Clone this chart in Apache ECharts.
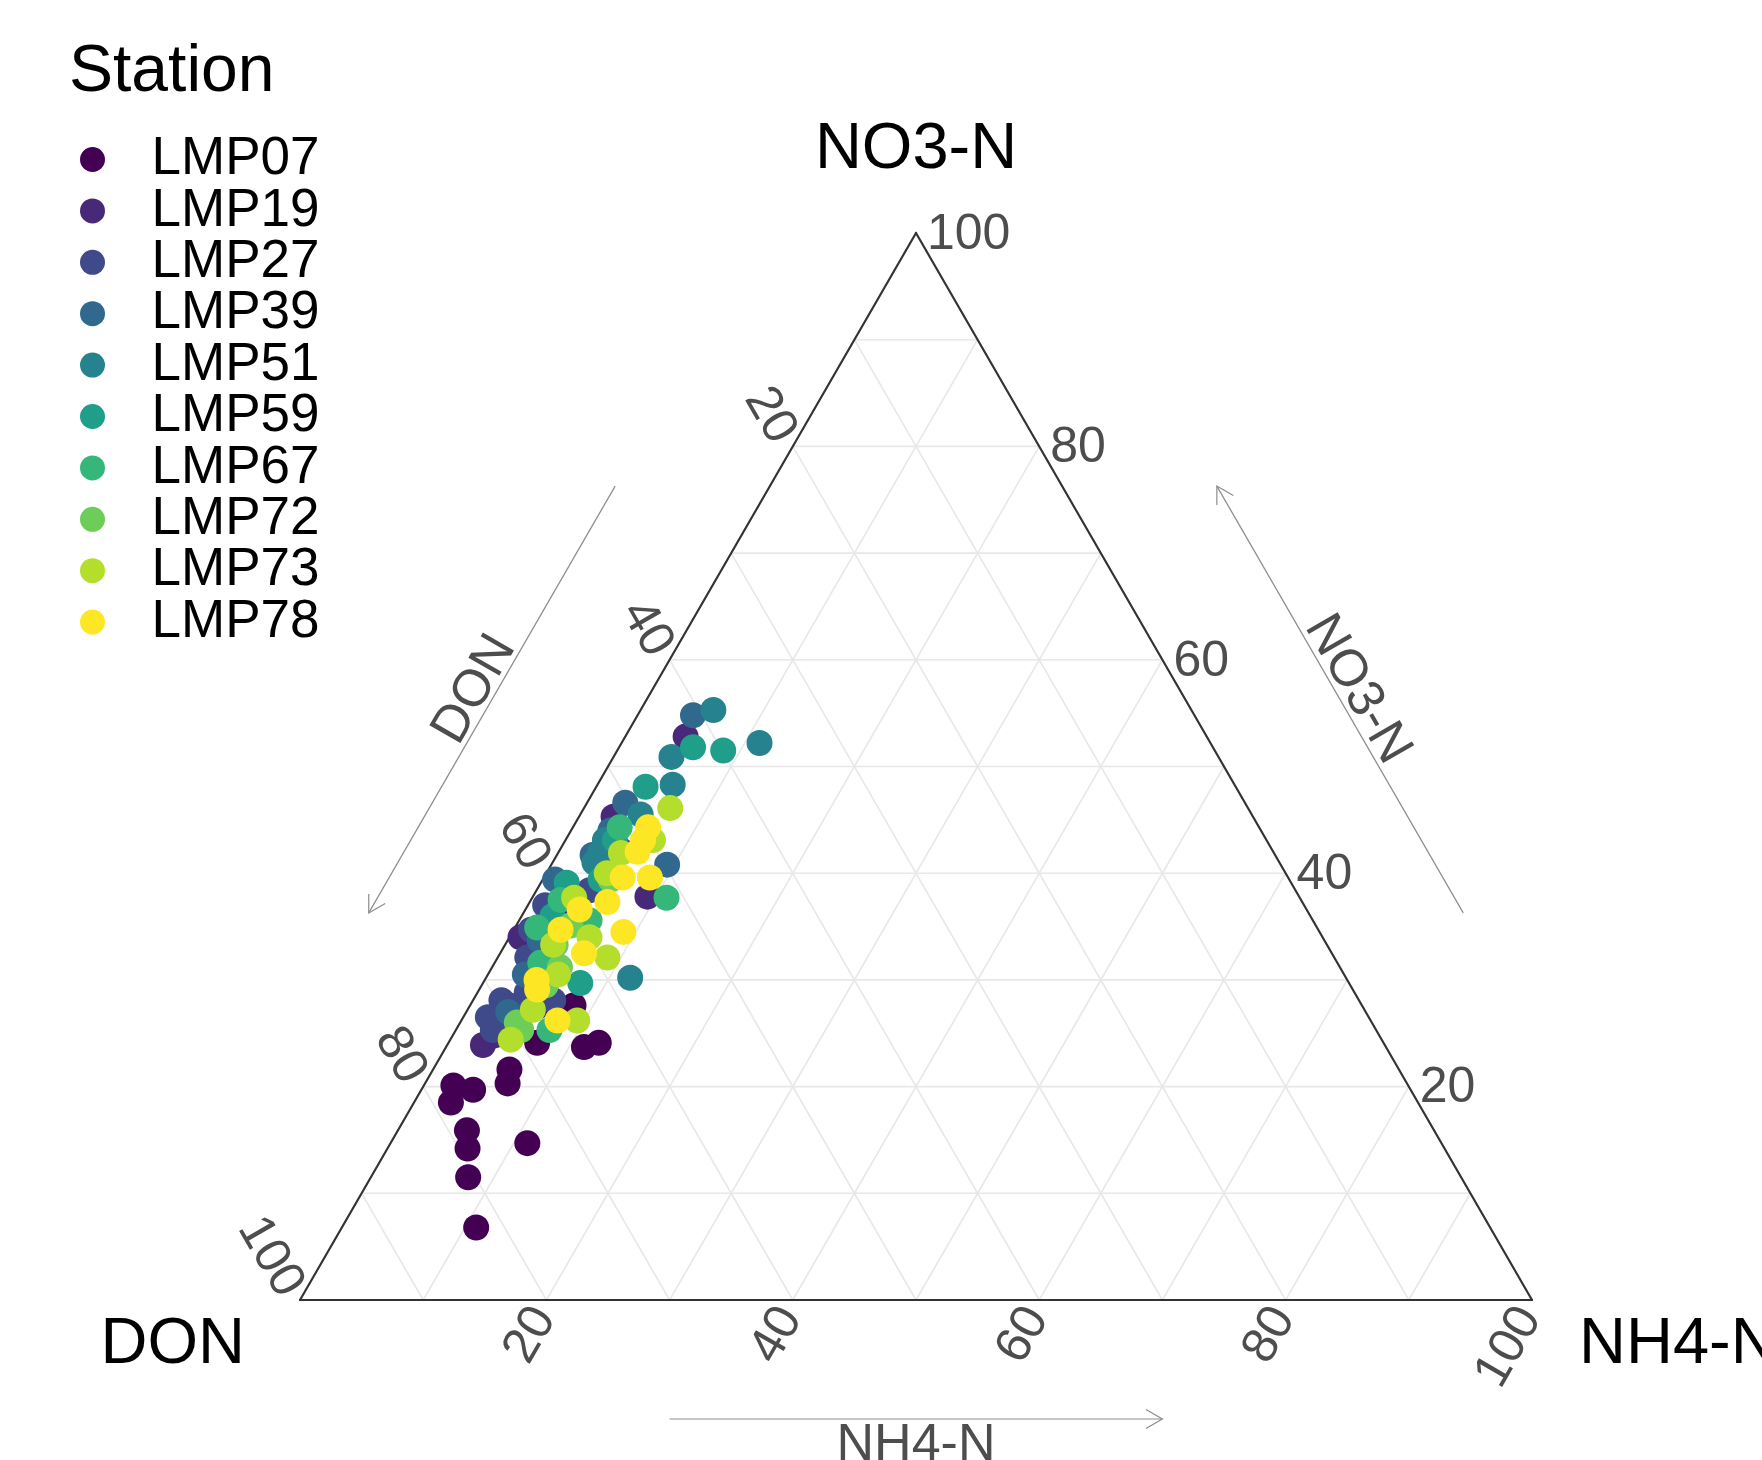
<!DOCTYPE html>
<html>
<head>
<meta charset="utf-8">
<script src="https://cdn.jsdelivr.net/npm/echarts@6/dist/echarts.min.js"></script>
<style>
html, body { margin: 0; padding: 0; background: #fff; }
#chart { width: 1762px; height: 1460px; }
</style>
</head>
<body>
<div id="chart"></div>
<script>
var stations = ['LMP07', 'LMP19', 'LMP27', 'LMP39', 'LMP51', 'LMP59', 'LMP67', 'LMP72', 'LMP73', 'LMP78'];
var stationColors = ['#440154', '#482878', '#3E4A89', '#31688E', '#26828E', '#1F9E89', '#35B779', '#6DCD59', '#B4DE2C', '#FDE725'];

// samples as [NH4-N %, NO3-N %], DON % is what is left
var lmp07 = [[10.9, 6.8], [7.9, 11.5], [6.5, 14.2], [5.6, 15.9], [11.1, 14.7], [3.0, 18.5], [2.4, 20.1], [4.2, 19.7], [6.2, 21.6], [6.7, 20.3], [7.2, 24.1], [11.2, 23.7], [12.2, 24.1], [8.4, 27.6]];
var lmp19 = [[2.9, 23.9], [0.9, 34.0], [2.8, 45.3], [9.3, 37.8], [4.9, 52.8], [3.4, 24.8], [4.0, 36.6], [4.0, 31.9], [5.5, 27.5]];
var lmp27 = [[3.0, 25.3], [2.3, 28.1], [4.0, 28.8], [3.2, 27.6], [2.4, 32.1], [4.3, 38.4], [6.5, 28.1], [1.4, 34.7], [1.4, 37.0], [2.0, 26.5], [4.9, 42.2]];
var lmp39 = [[4.5, 54.8], [3.1, 46.6], [9.4, 40.8], [2.9, 41.7], [1.0, 39.4], [3.4, 27.0], [3.2, 44.0], [3.6, 37.5], [2.6, 33.7], [3.0, 30.5]];
var lmp51 = [[5.9, 55.3], [4.7, 50.9], [11.2, 52.2], [6.1, 48.3], [3.4, 41.9], [11.7, 30.2], [3.2, 43.1], [3.4, 41.0], [4.9, 45.5]];
var lmp59 = [[6.0, 51.8], [8.6, 51.5], [4.0, 48.1], [2.1, 39.1], [7.9, 29.7], [4.0, 43.1], [4.7, 39.4], [2.5, 36.0]];
var lmp67 = [[10.9, 37.7], [3.8, 44.3], [1.8, 34.9], [3.7, 31.6], [7.6, 25.3], [2.4, 37.5], [5.7, 35.6]];
var lmp72 = [[5.5, 31.2], [4.6, 26.0], [4.4, 35.1], [4.1, 33.3], [5.5, 39.4], [5.2, 29.5], [5.3, 25.3]];
var lmp73 = [[7.0, 46.1], [7.1, 43.1], [4.9, 40.0], [5.1, 41.9], [3.4, 37.7], [8.9, 32.1], [3.9, 33.3], [6.5, 34.0], [5.7, 30.5], [9.4, 26.2], [4.9, 24.4], [5.3, 27.2]];
var lmp78 = [[6.1, 44.3], [6.3, 43.1], [6.4, 42.0], [8.6, 39.6], [6.4, 39.6], [6.3, 37.3], [4.4, 36.6], [9.0, 34.5], [3.8, 34.7], [6.8, 32.5], [4.2, 30.0], [7.8, 26.2], [4.7, 29.1]];
var stationData = [lmp07, lmp19, lmp27, lmp39, lmp51, lmp59, lmp67, lmp72, lmp73, lmp78];

var tickValues = [20, 40, 60, 80, 100];
var gridValues = [10, 20, 30, 40, 50, 60, 70, 80, 90];
var vertexNames = ['DON', 'NH4-N', 'NO3-N'];

var FONT = '"Liberation Sans", Arial, sans-serif';

// ternary (NH4, NO3) -> plane x/y, both 0..100
function tern(nh4, no3) {
	return [nh4 + no3 / 2, no3];
}

var vertices = [tern(0, 0), tern(100, 0), tern(0, 100)]; // DON, NH4-N, NO3-N

var gridSegs = [];
gridValues.forEach(function(k) {
	gridSegs.push(tern(0, k).concat(tern(100 - k, k)));       // NO3 const
	gridSegs.push(tern(k, 0).concat(tern(k, 100 - k)));       // NH4 const
	gridSegs.push(tern(100 - k, 0).concat(tern(0, 100 - k))); // DON const
});
var borderSegs = [
	vertices[0].concat(vertices[1]),
	vertices[1].concat(vertices[2]),
	vertices[2].concat(vertices[0])
];

function segRenderer(color, width) {
	return function(params, api) {
		var p1 = api.coord([api.value(0), api.value(1)]);
		var p2 = api.coord([api.value(2), api.value(3)]);
		return {
			type: 'line',
			shape: { x1: p1[0], y1: p1[1], x2: p2[0], y2: p2[1] },
			style: { stroke: color, lineWidth: width, lineCap: 'round' }
		};
	};
}

function textEl(x, y, text, size, color, align, rot) {
	return {
		type: 'text', x: x, y: y, rotation: rot || 0,
		style: { text: text, fill: color, fontSize: size, fontFamily: FONT, align: align, verticalAlign: 'middle' }
	};
}

// tick labels on the three sides
var tickSides = [
	{ pos: function(t) { return tern(100 - t, t); }, dx: 11, dy: 2, align: 'left', rot: 0 },              // NO3-N (right side)
	{ pos: function(t) { return tern(0, 100 - t); }, dx: -9, dy: -7, align: 'right', rot: -Math.PI / 3 },  // DON (left side)
	{ pos: function(t) { return tern(t, 0); }, dx: -2, dy: 11, align: 'right', rot: Math.PI / 3 }         // NH4-N (bottom)
];
var tickData = [];
tickSides.forEach(function(s, si) {
	tickValues.forEach(function(t) {
		tickData.push(s.pos(t).concat([si, t]));
	});
});

// arrows along the sides
var arrowSpec = [
	{ a: 0, b: 2, f0: 0.7, f1: 0.3, off: 134, title: 'DON', rot: Math.PI / 3, toff: 20 },
	{ a: 1, b: 2, f0: 0.3, f1: 0.7, off: 134, title: 'NO3-N', rot: -Math.PI / 3, toff: 20 },
	{ a: 0, b: 1, f0: 0.3, f1: 0.7, off: 119, title: 'NH4-N', rot: 0, toff: 27 }
];
var arrowData = arrowSpec.map(function(s, i) { return [0, 0, i]; });

var cornerOffsets = [[-55, 45, 'right'], [47, 45, 'left'], [0, -83, 'center']];

var chart = echarts.init(document.getElementById('chart'));

var series = [];
series.push({
	type: 'custom', name: 'grid', coordinateSystem: 'cartesian2d', silent: true, z: 1,
	renderItem: segRenderer('#e8e8e8', 1.6), data: gridSegs
});
series.push({
	type: 'custom', name: 'border', coordinateSystem: 'cartesian2d', silent: true, z: 2,
	renderItem: segRenderer('#333333', 2.2), data: borderSegs
});
series.push({
	type: 'custom', name: 'ticks', coordinateSystem: 'cartesian2d', silent: true, z: 2,
	renderItem: function(params, api) {
		var p = api.coord([api.value(0), api.value(1)]);
		var s = tickSides[api.value(2)];
		return textEl(p[0] + s.dx, p[1] + s.dy, String(api.value(3)), 50, '#4d4d4d', s.align, s.rot);
	},
	data: tickData
});
series.push({
	type: 'custom', name: 'corners', coordinateSystem: 'cartesian2d', silent: true, z: 2,
	renderItem: function(params, api) {
		var i = params.dataIndex;
		var p = api.coord(vertices[i]);
		var o = cornerOffsets[i];
		return textEl(p[0] + o[0], p[1] + o[1], vertexNames[i], 65, '#000', o[2], 0);
	},
	data: vertices
});
series.push({
	type: 'custom', name: 'arrows', coordinateSystem: 'cartesian2d', silent: true, z: 2,
	renderItem: function(params, api) {
		var s = arrowSpec[params.dataIndex];
		var A = api.coord(vertices[s.a]), B = api.coord(vertices[s.b]);
		var ex = B[0] - A[0], ey = B[1] - A[1];
		var len = Math.sqrt(ex * ex + ey * ey);
		var tx = ex / len, ty = ey / len;
		// outward normal: away from triangle centre
		var cen = api.coord([50, 100 / 3]);
		var nx = -ty, ny = tx;
		var mx = (A[0] + B[0]) / 2, my = (A[1] + B[1]) / 2;
		if ((mx - cen[0]) * nx + (my - cen[1]) * ny < 0) { nx = -nx; ny = -ny; }
		var p0 = [A[0] + ex * s.f0 + nx * s.off, A[1] + ey * s.f0 + ny * s.off];
		var p1 = [A[0] + ex * s.f1 + nx * s.off, A[1] + ey * s.f1 + ny * s.off];
		var ux = p1[0] - p0[0], uy = p1[1] - p0[1];
		var ul = Math.sqrt(ux * ux + uy * uy);
		ux /= ul; uy /= ul;
		var h = 19, c = Math.cos(Math.PI / 6), sn = Math.sin(Math.PI / 6);
		var h1 = [p1[0] - h * (ux * c - uy * sn), p1[1] - h * (uy * c + ux * sn)];
		var h2 = [p1[0] - h * (ux * c + uy * sn), p1[1] - h * (uy * c - ux * sn)];
		var lineStyle = { stroke: '#8c8c8c', lineWidth: 1.2, fill: null };
		var tmx = (p0[0] + p1[0]) / 2 + nx * s.toff, tmy = (p0[1] + p1[1]) / 2 + ny * s.toff;
		return {
			type: 'group',
			children: [
				{ type: 'polyline', shape: { points: [p0, p1] }, style: lineStyle },
				{ type: 'polyline', shape: { points: [h1, p1, h2] }, style: lineStyle },
				textEl(tmx, tmy, s.title, 52, '#4d4d4d', 'center', s.rot)
			]
		};
	},
	data: arrowData
});

stations.forEach(function(name, i) {
	series.push({
		type: 'scatter', name: name, z: 3,
		symbol: 'circle', symbolSize: 26,
		itemStyle: { color: stationColors[i], opacity: 1 },
		data: stationData[i].map(function(p) { return tern(p[0], p[1]); })
	});
});

chart.setOption({
	animation: false,
	backgroundColor: '#fff',
	title: {
		text: 'Station', left: 69, top: 40, padding: 0,
		textStyle: { fontSize: 66, fontWeight: 'normal', color: '#000', fontFamily: FONT }
	},
	legend: {
		data: stations, orient: 'vertical', left: 80, top: 133, padding: 0,
		icon: 'circle', itemWidth: 26, itemHeight: 25, itemGap: -1.6, selectedMode: false,
		textStyle: { fontSize: 53, lineHeight: 50, color: '#000', fontFamily: FONT, padding: [0, 0, 0, 41] }
	},
	grid: { left: 300, top: 233, width: 1232, height: 1067 },
	xAxis: { type: 'value', min: 0, max: 100, show: false },
	yAxis: { type: 'value', min: 0, max: 100, show: false },
	series: series
});
</script>
</body>
</html>
